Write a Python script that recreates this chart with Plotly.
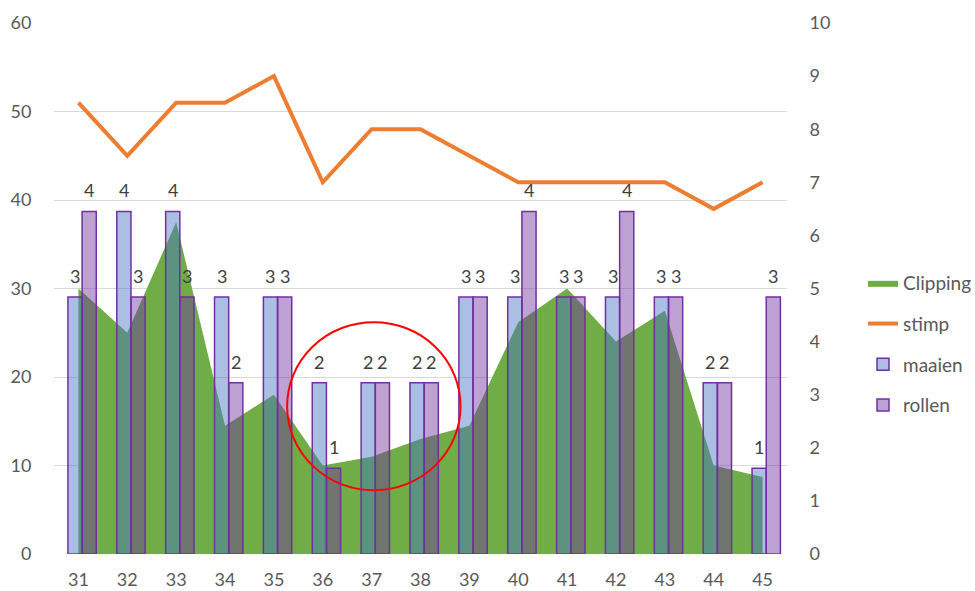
import plotly.graph_objects as go

weeks = [31, 32, 33, 34, 35, 36, 37, 38, 39, 40, 41, 42, 43, 44, 45]
clipping = [30, 25, 37.5, 14.5, 18, 10, 11, 13, 14.5, 26.2, 30, 24, 27.5, 10, 8.7]
stimp = [8.5, 7.5, 8.5, 8.5, 9, 7, 8, 8, 7.5, 7, 7, 7, 7, 6.5, 7]
maaien = [3, 4, 4, 3, 3, 2, 2, 2, 3, 3, 3, 3, 3, 2, 1]
rollen = [4, 3, 3, 2, 3, 1, 2, 2, 3, 4, 3, 4, 3, 2, 3]

FONT = "Lato"
TXT = "#595959"
FS = 18
BW = 0.29          # bar width (category units)
OFF_M = -0.215     # maaien bar left offset
OFF_R = OFF_M + BW # rollen bar left offset

fig = go.Figure()
fig.add_trace(go.Scatter(
    x=weeks, y=clipping, name="Clipping", mode="lines", fill="tozeroy",
    fillcolor="#70ad47", line=dict(width=0, color="#70ad47"),
    yaxis="y", legendrank=1, legendgroup="a"))
fig.add_trace(go.Bar(
    x=weeks, y=maaien, name="maaien", yaxis="y2", width=BW, offset=OFF_M,
    marker=dict(color="rgba(68,114,196,0.45)", line=dict(color="#7030a0", width=1.5)),
    legendrank=3, legendgroup="c"))
fig.add_trace(go.Bar(
    x=weeks, y=rollen, name="rollen", yaxis="y2", width=BW, offset=OFF_R,
    marker=dict(color="rgba(112,48,160,0.45)", line=dict(color="#7030a0", width=1.5)),
    legendrank=4, legendgroup="d"))
fig.add_trace(go.Scatter(
    x=weeks, y=stimp, name="stimp", mode="lines", yaxis="y3",
    line=dict(color="#ed7d31", width=4), legendrank=2, legendgroup="b"))

# data labels above the bars
for series, off in ((maaien, OFF_M), (rollen, OFF_R)):
    for w, v in zip(weeks, series):
        fig.add_annotation(x=w + off + BW / 2, y=v, xref="x", yref="y2", text=str(v),
                           showarrow=False, yshift=8, yanchor="bottom",
                           font=dict(family=FONT, size=FS, color="#404040"))

fig.add_shape(type="circle", xref="x", yref="y", x0=35.27, x1=38.82, y0=7.2, y1=26.2,
              line=dict(color="#ff0000", width=2))

axis_common = dict(automargin=False, zeroline=False, showline=False,
                   tickfont=dict(size=FS, color=TXT), tickcolor="rgba(0,0,0,0)")

fig.update_layout(
    width=975, height=591,
    margin=dict(l=53.5, r=187.5, t=22.7, b=36.7, autoexpand=False),
    paper_bgcolor="white", plot_bgcolor="white",
    font=dict(family=FONT, size=FS, color=TXT),
    barmode="overlay",
    showlegend=True,
    legend=dict(xref="container", yref="container", x=863 / 975, y=1 - 264 / 591,
                xanchor="left", yanchor="top", font=dict(size=19, color=TXT),
                tracegroupgap=13, traceorder="grouped", bgcolor="rgba(0,0,0,0)"),
    xaxis=dict(range=[30.5, 45.5], tickvals=weeks, ticktext=[str(w) for w in weeks],
               showgrid=False, ticks="outside", ticklen=9, **axis_common),
    yaxis=dict(range=[0, 60], dtick=10, showgrid=True, gridcolor="#d9d9d9", gridwidth=1,
               ticks="outside", ticklen=18, **axis_common),
    yaxis2=dict(range=[0, 6.2], overlaying="y", side="right", visible=False,
                showgrid=False, zeroline=False, automargin=False),
    yaxis3=dict(range=[0, 10], dtick=1, overlaying="y", side="right", showgrid=False,
                ticks="outside", ticklen=18, **axis_common),
)

fig.write_html("out.html", config={"displayModeBar": False},
               post_script="document.body.style.margin='0px';document.body.style.overflow='hidden';")
